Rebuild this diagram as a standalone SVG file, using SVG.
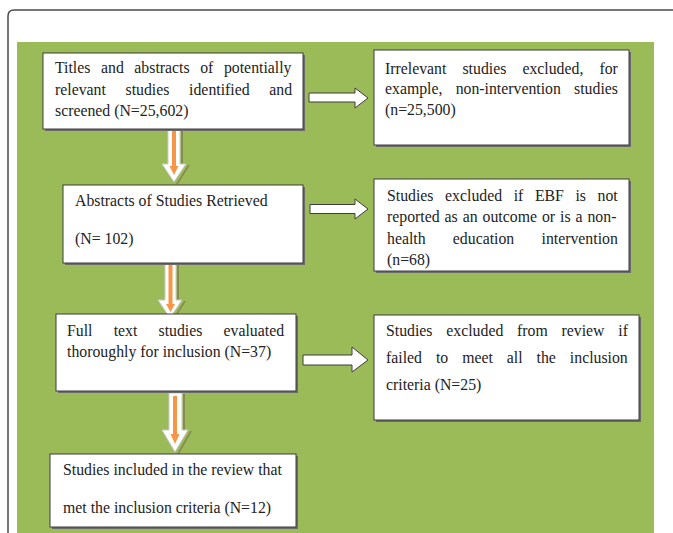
<svg xmlns="http://www.w3.org/2000/svg" width="673" height="533" viewBox="0 0 673 533">
<style>
.box{fill:#ffffff;stroke:#3c3c3c;stroke-width:1}
.sh{fill:#6b6b6b}
.t{font-family:"Liberation Serif","Times New Roman",serif;font-size:15.8px;fill:#222222}
.ha{fill:#ffffff;stroke:#3c3c3c;stroke-width:1}
.va{fill:#ffffff;stroke:#c9c9c9;stroke-width:1}
.vs{fill:#7a6a4a;opacity:0.6}
.or{fill:#f79646}
</style>
<rect x="0" y="0" width="673" height="533" fill="#ffffff"/>
<path d="M8,533 V16 Q8,10 14,10 H680" fill="none" stroke="#4a4a4a" stroke-width="1.5"/>
<rect x="17" y="42" width="637" height="491" fill="#9bbb59"/>

<g id="connectors">
  <path class="ha" d="M309,93 H355 V88 L368,98 L355,108 V102 H309 Z"/>
  <path class="ha" d="M310,204.5 H355 V199 L368,209 L355,219 V213.5 H310 Z"/>
  <path class="ha" d="M303,355 H352 V347 L368,360 L352,372 V365 H303 Z"/>

  <g id="down1">
    <path class="vs" d="M181,130 V165 H188 L176,184 L178,184 L190,165 H183 V130 Z"/>
    <path class="va" d="M168,129 H180 V164 H186 L174,182 L162,164 H168 Z"/>
    <path class="or" d="M172,131 H176 V166 H178.5 L174,175 L169.5,166 H172 Z"/>
  </g>
  <g id="down2">
    <path class="vs" d="M177,264 V301 H184 L172,320 L174,320 L186,301 H179 V264 Z"/>
    <path class="va" d="M165,263 H176 V300 H182 L170,318 L158,300 H165 Z"/>
    <path class="or" d="M168.5,265 H172.5 V304 H175 L170.5,312 L166,304 H168.5 Z"/>
  </g>
  <g id="down3">
    <path class="vs" d="M183,394 V431 H190 L177,454 L179,454 L192,431 H185 V394 Z"/>
    <path class="va" d="M169,393 H182 V430 H188 L175,452 L162,430 H169 Z"/>
    <path class="or" d="M173,396 H177 V434 H179.5 L175,444 L170.5,434 H173 Z"/>
  </g>
</g>

<g id="n1">
  <rect class="sh" x="45" y="55" width="260" height="76"/>
  <rect class="box" x="43" y="53" width="260" height="76"/>
  <text class="t" x="55" y="73" word-spacing="6.6"><tspan>Titles</tspan> <tspan>and</tspan> <tspan>abstracts</tspan> <tspan>of</tspan> <tspan>potentially</tspan></text>
  <text class="t" x="55" y="95" word-spacing="15.7"><tspan>relevant</tspan> <tspan>studies</tspan> <tspan>identified</tspan> <tspan>and</tspan></text>
  <text class="t" x="55" y="116">screened (N=25,602)</text>
</g>

<g id="n2">
  <rect class="sh" x="376" y="52" width="255" height="95"/>
  <rect class="box" x="374" y="50" width="255" height="95"/>
  <text class="t" x="385" y="74" word-spacing="12.1"><tspan>Irrelevant</tspan> <tspan>studies</tspan> <tspan>excluded,</tspan> <tspan>for</tspan></text>
  <text class="t" x="385" y="94" word-spacing="9.2"><tspan>example,</tspan> <tspan>non-intervention</tspan> <tspan>studies</tspan></text>
  <text class="t" x="385" y="115">(n=25,500)</text>
</g>

<g id="n3">
  <rect class="sh" x="65" y="187" width="240" height="78"/>
  <rect class="box" x="63" y="185" width="240" height="78"/>
  <text class="t" x="75" y="206">Abstracts of Studies Retrieved</text>
  <text class="t" x="75" y="244">(N= 102)</text>
</g>

<g id="n4">
  <rect class="sh" x="376" y="181" width="255" height="92"/>
  <rect class="box" x="374" y="179" width="255" height="92"/>
  <text class="t" x="387" y="201" word-spacing="7.6"><tspan>Studies</tspan> <tspan>excluded</tspan> <tspan>if</tspan> <tspan>EBF</tspan> <tspan>is</tspan> <tspan>not</tspan></text>
  <text class="t" x="387" y="222" word-spacing="1">reported as an outcome or is a non-</text>
  <text class="t" x="387" y="244" word-spacing="23.3"><tspan>health</tspan> <tspan>education</tspan> <tspan>intervention</tspan></text>
  <text class="t" x="387" y="265">(n=68)</text>
</g>

<g id="n5">
  <rect class="sh" x="58" y="316" width="240" height="77"/>
  <rect class="box" x="56" y="314" width="240" height="77"/>
  <text class="t" x="67" y="336" word-spacing="17.2"><tspan>Full</tspan> <tspan>text</tspan> <tspan>studies</tspan> <tspan>evaluated</tspan></text>
  <text class="t" x="67" y="357">thoroughly for inclusion (N=37)</text>
</g>

<g id="n6">
  <rect class="sh" x="376" y="317" width="265" height="105"/>
  <rect class="box" x="374" y="315" width="265" height="105"/>
  <text class="t" x="386" y="336" word-spacing="9.8"><tspan>Studies</tspan> <tspan>excluded</tspan> <tspan>from</tspan> <tspan>review</tspan> <tspan>if</tspan></text>
  <text class="t" x="386" y="363" word-spacing="10"><tspan>failed</tspan> <tspan>to</tspan> <tspan>meet</tspan> <tspan>all</tspan> <tspan>the</tspan> <tspan>inclusion</tspan></text>
  <text class="t" x="386" y="390">criteria (N=25)</text>
</g>

<g id="n7">
  <rect class="sh" x="52" y="456" width="246" height="73"/>
  <rect class="box" x="50" y="454" width="246" height="73"/>
  <text class="t" x="63" y="475">Studies included in the review that</text>
  <text class="t" x="63" y="513">met the inclusion criteria (N=12)</text>
</g>
</svg>
